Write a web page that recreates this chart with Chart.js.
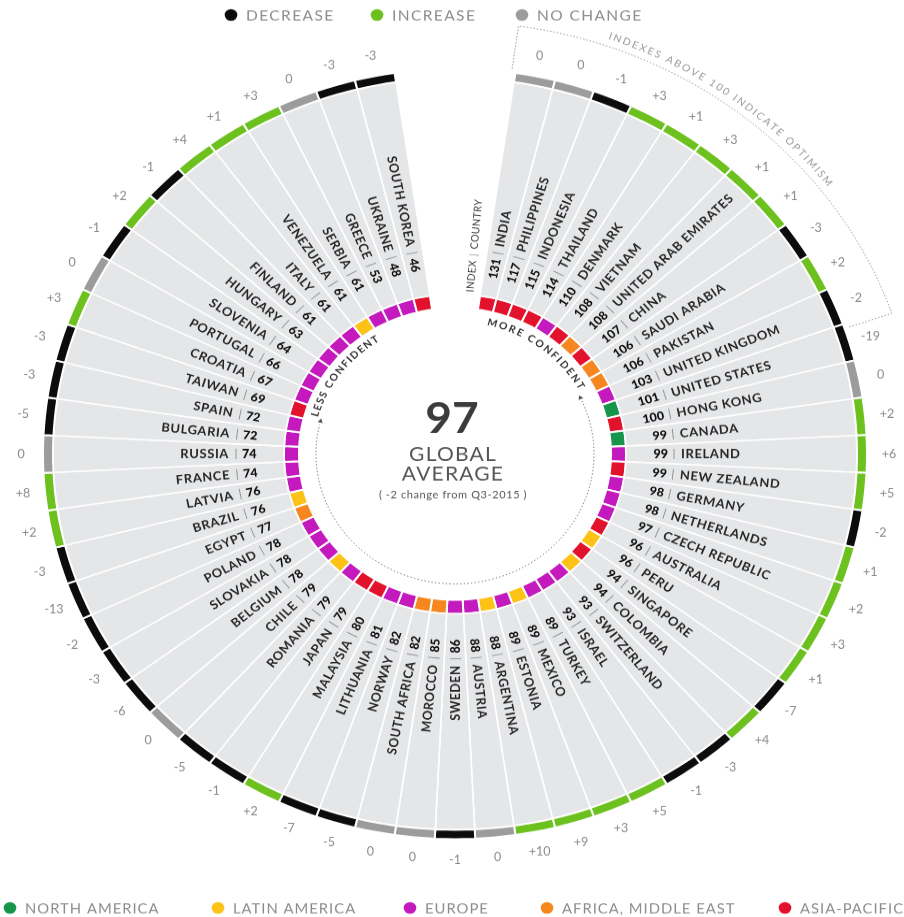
<!DOCTYPE html>
<html>
<head>
<meta charset="utf-8">
<script src="https://cdn.jsdelivr.net/npm/chart.js@4.4.1/dist/chart.umd.min.js"></script>
<style>
  html, body { margin: 0; padding: 0; background: #fff; overflow: hidden; width: 904px; height: 917px; }
  /* the reference is slightly squashed vertically, so draw a round chart and squash it the same way */
  #wrap { width: 904px; height: 981px; transform: scaleY(0.935); transform-origin: 0 0; }
</style>
</head>
<body>
<div id="wrap"><canvas id="chart" width="904" height="981"></canvas></div>
<script>
const countries = ['INDIA', 'PHILIPPINES', 'INDONESIA', 'THAILAND', 'DENMARK', 'VIETNAM',
  'UNITED ARAB EMIRATES', 'CHINA', 'SAUDI ARABIA', 'PAKISTAN', 'UNITED KINGDOM', 'UNITED STATES',
  'HONG KONG', 'CANADA', 'IRELAND', 'NEW ZEALAND', 'GERMANY', 'NETHERLANDS', 'CZECH REPUBLIC',
  'AUSTRALIA', 'PERU', 'SINGAPORE', 'COLOMBIA', 'SWITZERLAND', 'ISRAEL', 'TURKEY', 'MEXICO',
  'ESTONIA', 'ARGENTINA', 'AUSTRIA', 'SWEDEN', 'MOROCCO', 'SOUTH AFRICA', 'NORWAY', 'LITHUANIA',
  'MALAYSIA', 'JAPAN', 'ROMANIA', 'CHILE', 'BELGIUM', 'SLOVAKIA', 'POLAND', 'EGYPT', 'BRAZIL',
  'LATVIA', 'FRANCE', 'RUSSIA', 'BULGARIA', 'SPAIN', 'TAIWAN', 'CROATIA', 'PORTUGAL', 'SLOVENIA',
  'HUNGARY', 'FINLAND', 'ITALY', 'VENEZUELA', 'SERBIA', 'GREECE', 'UKRAINE', 'SOUTH KOREA'];

const indexValues = [131, 117, 115, 114, 110, 108, 108, 107, 106, 106, 103, 101, 100, 99, 99, 99,
  98, 98, 97, 96, 96, 94, 94, 93, 93, 89, 89, 89, 88, 88, 86, 85, 82, 82, 81, 80, 79, 79, 79, 78,
  78, 78, 77, 76, 76, 74, 74, 72, 72, 69, 67, 66, 64, 63, 61, 61, 61, 61, 53, 48, 46];

// change vs previous quarter
const changes = [0, 0, -1, 3, 1, 3, 1, 1, -3, 2, -2, -19, 0, 2, 6, 5, -2, 1, 2, 3, 1, -7, 4, -3,
  -1, 5, 3, 9, 10, 0, -1, 0, 0, -5, -7, 2, -1, -5, 0, -6, -3, -2, -13, -3, 2, 8, 0, -5, -3, -3, 3,
  0, -1, 2, -1, 4, 1, 3, 0, -3, -3];

const regions = ['ap', 'ap', 'ap', 'ap', 'eu', 'ap', 'ame', 'ap', 'ame', 'ame', 'eu', 'na', 'ap',
  'na', 'eu', 'ap', 'eu', 'eu', 'eu', 'ap', 'la', 'ap', 'la', 'eu', 'eu', 'eu', 'la', 'eu', 'la',
  'eu', 'eu', 'ame', 'ame', 'eu', 'eu', 'ap', 'ap', 'eu', 'la', 'eu', 'eu', 'eu', 'ame', 'la', 'eu',
  'eu', 'eu', 'eu', 'eu', 'ap', 'eu', 'eu', 'eu', 'eu', 'eu', 'eu', 'la', 'eu', 'eu', 'eu', 'ap'];

const regionKeys = ['na', 'la', 'eu', 'ame', 'ap'];
const regionLabels = ['NORTH AMERICA', 'LATIN AMERICA', 'EUROPE', 'AFRICA, MIDDLE EAST', 'ASIA-PACIFIC'];
const changeLabels = ['DECREASE', 'INCREASE', 'NO CHANGE'];

const globalAverage = 97;
const globalNote = '( -2 change from Q3-2015 )';

const regionColors = { na: '#17954a', la: '#fdc216', eu: '#c41abd', ame: '#f6861f', ap: '#e2122c' };
const changeColors = ['#0c0c0c', '#6cc11f', '#9c9c9c'];
const changeColor = v => v < 0 ? changeColors[0] : (v > 0 ? changeColors[1] : changeColors[2]);

const DEG = Math.PI / 180;
const FONT = 'Lato, "Open Sans", sans-serif';
const gapSlots = 3;
const slots = countries.concat(Array(gapSlots).fill(''));
const blank = 'rgba(0,0,0,0)';

function ring(colorOf, weight, bw) {
  return {
    data: slots.map(() => 1),
    weight: weight,
    backgroundColor: slots.map((s, i) => i < countries.length ? colorOf(i) : blank),
    borderColor: '#ffffff',
    borderWidth: slots.map((s, i) => i < countries.length ? bw : 0),
    hoverOffset: 0
  };
}

// angle measured clockwise from 12 o'clock -> canvas radians
const rad = t => (t - 90) * DEG;

function arcText(ctx, text, cx, cy, r, t0, t1) {
  const chars = [...text];
  const widths = chars.map(c => ctx.measureText(c).width);
  const total = widths.reduce((s, w) => s + w, 0);
  const gap = (r * (t1 - t0) * DEG - total) / (chars.length - 1);
  let a = rad(t0);
  chars.forEach((c, k) => {
    const mid = a + widths[k] / 2 / r;
    ctx.save();
    ctx.translate(cx + r * Math.cos(mid), cy + r * Math.sin(mid));
    ctx.rotate(mid + Math.PI / 2);
    ctx.fillText(c, 0, 0);
    ctx.restore();
    a += (widths[k] + gap) / r;
  });
}

function arrowHead(ctx, cx, cy, r, t, dir) {
  const a = rad(t);
  const x = cx + r * Math.cos(a), y = cy + r * Math.sin(a);
  const tx = -Math.sin(a) * dir, ty = Math.cos(a) * dir;
  const nx = Math.cos(a), ny = Math.sin(a);
  ctx.beginPath();
  ctx.moveTo(x + tx * 4.5, y + ty * 4.5);
  ctx.lineTo(x + nx * 2.6, y + ny * 2.6);
  ctx.lineTo(x - nx * 2.6, y - ny * 2.6);
  ctx.closePath();
  ctx.fill();
}

function legendRow(ctx, items, y, size, spacing) {
  ctx.textAlign = 'left';
  ctx.textBaseline = 'middle';
  ctx.font = size + 'px ' + FONT;
  ctx.letterSpacing = spacing + 'px';
  items.forEach(it => {
    ctx.fillStyle = it.color;
    ctx.beginPath();
    ctx.arc(it.x, y, 6.3, 0, Math.PI * 2);
    ctx.fill();
    ctx.fillStyle = '#8c8c8c';
    ctx.fillText(it.text, it.x + 15, y + 1);
  });
  ctx.letterSpacing = '0px';
}

const radialLabels = {
  id: 'radialLabels',
  afterDatasetsDraw(chart) {
    const ctx = chart.ctx;
    const outerArcs = chart.getDatasetMeta(0).data;
    const innerArcs = chart.getDatasetMeta(2).data;
    ctx.save();
    ctx.textBaseline = 'middle';
    countries.forEach((name, i) => {
      const arc = innerArcs[i];
      const cx = arc.x, cy = arc.y;
      const a = (arc.startAngle + arc.endAngle) / 2;
      const theta = ((a / DEG + 90) % 360 + 360) % 360;
      const right = theta < 179.9;
      const s = right ? 1 : -1;
      const base = arc.outerRadius;

      ctx.save();
      ctx.translate(cx, cy);
      ctx.rotate(right ? a : a + Math.PI);
      ctx.font = '900 12.5px ' + FONT;
      ctx.fillStyle = '#0e0e0e';
      ctx.textAlign = right ? 'right' : 'left';
      ctx.fillText(String(indexValues[i]), s * (base + 42), 0.5);
      ctx.font = '12px ' + FONT;
      ctx.fillStyle = '#8a8a8a';
      ctx.textAlign = 'center';
      ctx.fillText('|', s * (base + 48), 0);
      ctx.font = 'bold 13px ' + FONT;
      ctx.fillStyle = '#262626';
      ctx.letterSpacing = '0.6px';
      ctx.textAlign = right ? 'left' : 'right';
      ctx.fillText(name, s * (base + 55), 0.5);
      ctx.letterSpacing = '0px';
      ctx.restore();

      const o = outerArcs[i];
      const r = o.outerRadius + 22;
      const v = changes[i];
      ctx.font = '12.5px ' + FONT;
      ctx.fillStyle = '#8a8a8a';
      ctx.textAlign = 'center';
      ctx.fillText(v > 0 ? '+' + v : String(v), cx + r * Math.cos(a), cy + r * Math.sin(a));
    });
    ctx.restore();
  }
};

const decorations = {
  id: 'decorations',
  afterDraw(chart) {
    const ctx = chart.ctx;
    const ref = chart.getDatasetMeta(2).data[0];
    const cx = ref.x, cy = ref.y;
    const base = ref.outerRadius;
    const rOuter = chart.getDatasetMeta(0).data[0].outerRadius;
    ctx.save();

    // column header in the gap
    ctx.save();
    ctx.translate(cx, cy);
    ctx.rotate(rad(5));
    ctx.textBaseline = 'middle';
    ctx.font = '10.5px ' + FONT;
    ctx.fillStyle = '#3a3a3a';
    ctx.letterSpacing = '0.5px';
    ctx.textAlign = 'right';
    ctx.fillText('INDEX', base + 37, 0);
    ctx.textAlign = 'center';
    ctx.fillStyle = '#8a8a8a';
    ctx.fillText('|', base + 43, 0);
    ctx.fillStyle = '#3a3a3a';
    ctx.textAlign = 'left';
    ctx.fillText('COUNTRY', base + 49, 0);
    ctx.letterSpacing = '0px';
    ctx.restore();

    // centre
    ctx.textAlign = 'center';
    ctx.textBaseline = 'middle';
    ctx.fillStyle = '#3b3b3b';
    ctx.font = 'bold 46px ' + FONT;
    ctx.fillText(String(globalAverage), cx - 3, cy - 37);
    ctx.fillStyle = '#555555';
    ctx.font = '21px ' + FONT;
    ctx.letterSpacing = '1.2px';
    ctx.fillText('GLOBAL', cx - 2, cy + 1);
    ctx.fillText('AVERAGE', cx - 2, cy + 22);
    ctx.font = '11px ' + FONT;
    ctx.letterSpacing = '0.6px';
    ctx.fillText(globalNote, cx - 2, cy + 44);
    ctx.letterSpacing = '0px';

    // curved captions inside the ring
    ctx.fillStyle = '#333333';
    ctx.font = 'bold 10.5px ' + FONT;
    arcText(ctx, 'MORE CONFIDENT', cx, cy, base - 26, 13, 61);
    arcText(ctx, 'LESS CONFIDENT', cx, cy, base - 25, 286, 328);

    // dotted path with arrows
    ctx.strokeStyle = '#555555';
    ctx.lineWidth = 1;
    ctx.setLineDash([1.2, 2.4]);
    ctx.beginPath();
    ctx.arc(cx, cy, base - 32, rad(66), rad(283));
    ctx.stroke();
    ctx.setLineDash([]);
    ctx.fillStyle = '#555555';
    arrowHead(ctx, cx, cy, base - 32, 65, -1);
    arrowHead(ctx, cx, cy, base - 32, 284, 1);

    // optimism box
    const t0 = 7.9, t1 = 71, rb = rOuter + 50, ri = rOuter + 4;
    ctx.strokeStyle = '#8d8d8d';
    ctx.setLineDash([1.4, 2]);
    ctx.beginPath();
    ctx.moveTo(cx + ri * Math.cos(rad(t0)), cy + ri * Math.sin(rad(t0)));
    ctx.lineTo(cx + rb * Math.cos(rad(t0)), cy + rb * Math.sin(rad(t0)));
    ctx.arc(cx, cy, rb, rad(t0), rad(t1));
    ctx.lineTo(cx + ri * Math.cos(rad(t1)), cy + ri * Math.sin(rad(t1)));
    ctx.stroke();
    ctx.setLineDash([]);
    ctx.fillStyle = '#9a9a9a';
    ctx.font = '10.5px ' + FONT;
    ctx.textBaseline = 'middle';
    arcText(ctx, 'INDEXES ABOVE 100 INDICATE OPTIMISM', cx, cy, rb + 11, 19, 52.5);

    // legends
    legendRow(ctx, [
      { x: 231, color: changeColors[0], text: changeLabels[0] },
      { x: 377, color: changeColors[1], text: changeLabels[1] },
      { x: 522, color: changeColors[2], text: changeLabels[2] }
    ], 16, 15.5, 1.4);
    const xs = [10, 218, 410, 547, 785];
    legendRow(ctx, regionKeys.map((k, i) => ({ x: xs[i], color: regionColors[k], text: regionLabels[i] })),
      971, 14.8, 1);

    ctx.restore();
  }
};

new Chart(document.getElementById('chart').getContext('2d'), {
  type: 'doughnut',
  data: {
    labels: slots,
    datasets: [
      ring(i => changeColor(changes[i]), 10, 2),
      ring(() => '#e5e6e8', 231, 1.6),
      ring(i => regionColors[regions[i]], 15, 2)
    ]
  },
  options: {
    responsive: false,
    animation: false,
    events: [],
    rotation: 360 / slots.length * gapSlots / 2,
    circumference: 360,
    radius: 412,
    cutout: (156 / 412 * 100) + '%',
    layout: { padding: { left: 6, right: 0, top: 0, bottom: 10 } },
    plugins: {
      legend: { display: false },
      tooltip: { enabled: false }
    }
  },
  plugins: [radialLabels, decorations]
});
</script>
</body>
</html>
